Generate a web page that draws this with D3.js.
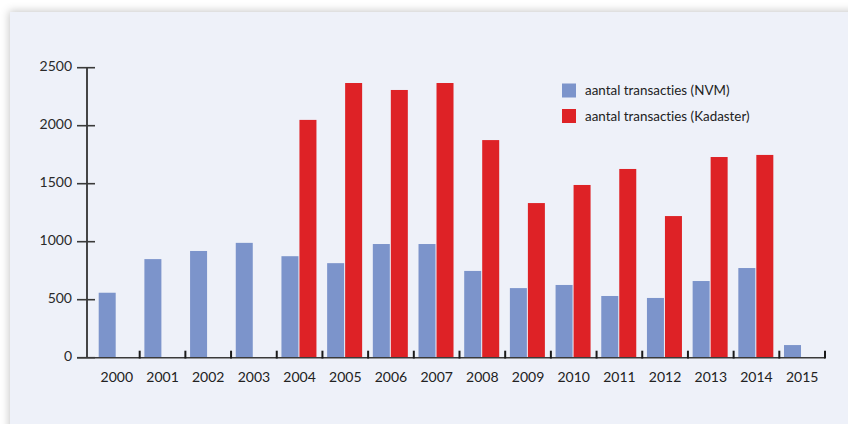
<!DOCTYPE html>
<html>
<head>
<meta charset="utf-8">
<script src="https://cdn.jsdelivr.net/npm/d3@7"></script>
<style>
  html, body { margin: 0; padding: 0; background: #ffffff; }
  svg { display: block; font-family: Lato, "Open Sans", sans-serif; font-variant-ligatures: none; }
</style>
</head>
<body>
<svg id="chart" width="848" height="424"></svg>
<script>
// Housing transactions per year, two sources
const years = ["2000","2001","2002","2003","2004","2005","2006","2007",
               "2008","2009","2010","2011","2012","2013","2014","2015"];
const nvm = [560, 850, 920, 990, 875, 815, 980, 980, 748, 600, 627, 532, 515, 661, 773, 109];
const kadaster = [null, null, null, null, 2050, 2368, 2308, 2368, 1876, 1333, 1489, 1627, 1221, 1730, 1748, null];
const seriesNames = ["aantal transacties (NVM)", "aantal transacties (Kadaster)"];
const seriesColors = ["#7c94cb", "#de2226"];
const yTicks = [0, 500, 1000, 1500, 2000, 2500];

const svg = d3.select("#chart");

// panel with soft shadow
const defs = svg.append("defs");
const f = defs.append("filter").attr("id", "shadow")
  .attr("x", "-5%").attr("y", "-5%").attr("width", "110%").attr("height", "110%");
f.append("feDropShadow").attr("dx", -1).attr("dy", -1).attr("stdDeviation", 4)
  .attr("flood-color", "#000").attr("flood-opacity", 0.22);

svg.append("rect")
  .attr("x", 10).attr("y", 12).attr("width", 860).attr("height", 440)
  .attr("fill", "#eef1f9").attr("filter", "url(#shadow)");

// scales
const x = d3.scaleBand().domain(years).range([94, 825]).paddingInner(0).paddingOuter(0);
const x1 = d3.scaleBand().domain([0, 1]).range([4.7, 39.7]).paddingInner(1 / 18).paddingOuter(0);
const y = d3.scaleLinear().domain([0, 2500]).range([357.7, 67.7]);

// bars
const rows = years.map((yr, i) => ({ year: yr, vals: [nvm[i], kadaster[i]] }));
const g = svg.append("g");
rows.forEach(r => {
  r.vals.forEach((v, s) => {
    if (v == null) return;
    g.append("rect")
      .attr("x", x(r.year) + x1(s))
      .attr("y", y(v))
      .attr("width", x1.bandwidth())
      .attr("height", y(0) - y(v))
      .attr("fill", seriesColors[s]);
  });
});

// x axis baseline
svg.append("line")
  .attr("x1", 77).attr("x2", x.range()[1])
  .attr("y1", y(0)).attr("y2", y(0))
  .attr("stroke", "#3a3a3a").attr("stroke-width", 1.6);

// category separators (ticks pointing up)
years.forEach((yr, i) => {
  const xp = x(yr) + x.bandwidth();
  svg.append("line")
    .attr("x1", xp).attr("x2", xp)
    .attr("y1", y(0) - 7).attr("y2", y(0) + 0.8)
    .attr("stroke", "#1a1a1a").attr("stroke-width", 2);
});

// year labels
svg.append("g").selectAll("text").data(years).join("text")
  .attr("x", d => x(d) + x.bandwidth() / 2)
  .attr("y", 382)
  .attr("text-anchor", "middle")
  .attr("font-size", 14)
  .attr("fill", "#222")
  .text(d => d);

// y axis
svg.append("line")
  .attr("x1", 87).attr("x2", 87)
  .attr("y1", y(2500)).attr("y2", y(0))
  .attr("stroke", "#1a1a1a").attr("stroke-width", 1.6);

const yAxis = svg.append("g");
yTicks.forEach(t => {
  yAxis.append("line")
    .attr("x1", 77).attr("x2", 95)
    .attr("y1", y(t)).attr("y2", y(t))
    .attr("stroke", "#3a3a3a").attr("stroke-width", 1.6);
  yAxis.append("text")
    .attr("x", 72).attr("y", y(t) + 3)
    .attr("text-anchor", "end")
    .attr("font-size", 14)
    .attr("fill", "#2a2a2a")
    .text(t);
});

// legend
const legend = svg.append("g");
seriesNames.forEach((name, i) => {
  const ly = 83.5 + i * 25.5;
  legend.append("rect")
    .attr("x", 562).attr("y", ly).attr("width", 14).attr("height", 14)
    .attr("fill", seriesColors[i]);
  legend.append("text")
    .attr("x", 585).attr("y", ly + 11.5)
    .attr("font-size", 13.4)
    .attr("fill", "#222")
    .text(name);
});
</script>
</body>
</html>
